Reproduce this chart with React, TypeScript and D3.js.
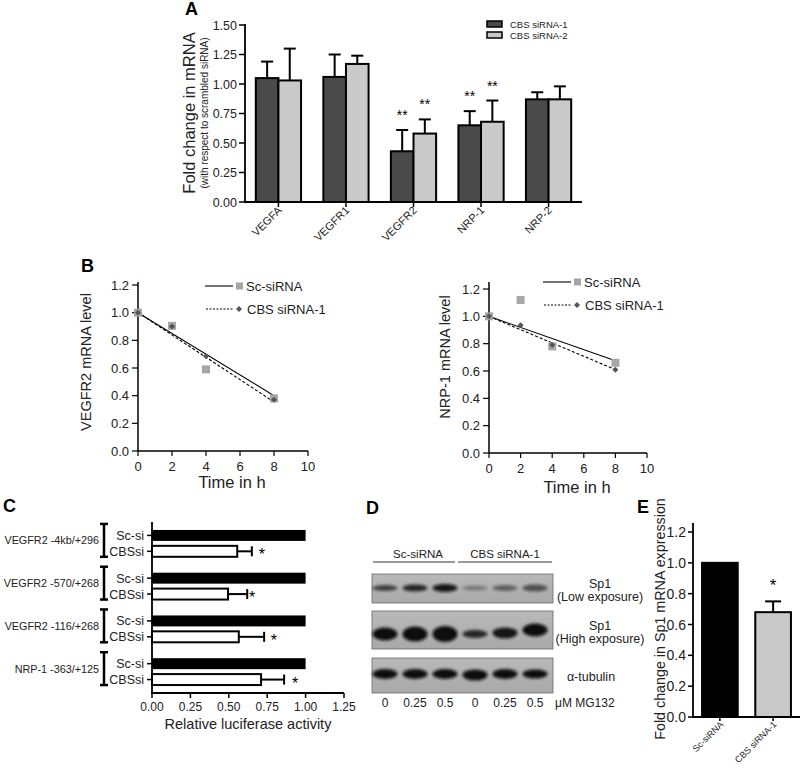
import React from "react";
import * as d3 from "d3";

const FONT = "Liberation Sans, Arial, Helvetica, sans-serif";

// Panel A
const aGenes = ["VEGFA", "VEGFR1", "VEGFR2", "NRP-1", "NRP-2"];
const aSeries = ["CBS siRNA-1", "CBS siRNA-2"];
const aSi1 = [1.05, 1.06, 0.43, 0.65, 0.87];
const aSi1Err = [0.14, 0.19, 0.18, 0.12, 0.06];
const aSi2 = [1.03, 1.17, 0.58, 0.68, 0.87];
const aSi2Err = [0.27, 0.07, 0.12, 0.18, 0.11];
const aStars1 = ["", "", "**", "**", ""];
const aStars2 = ["", "", "**", "**", ""];
const aTicks = [0, 0.25, 0.5, 0.75, 1.0, 1.25, 1.5];

// Panel B
const bTimes = [0, 2, 4, 8];
const bLeftSc = [1.0, 0.905, 0.59, 0.38];
const bLeftCbs = [1.0, 0.9, 0.685, 0.37];
const bLeftFitSc = [1.0, 0.4];
const bLeftFitCbs = [1.0, 0.355];
const bRightSc = [1.0, 1.12, 0.78, 0.66];
const bRightCbs = [1.0, 0.935, 0.79, 0.61];
const bRightFitSc = [1.0, 0.675];
const bRightFitCbs = [1.0, 0.61];
const bFitX = [0, 8];
const bXTicks = [0, 2, 4, 6, 8, 10];
const bYTicks = [0, 0.2, 0.4, 0.6, 0.8, 1.0, 1.2];

// Panel C
const cConstructs = ["VEGFR2 -4kb/+296", "VEGFR2 -570/+268", "VEGFR2 -116/+268", "NRP-1 -363/+125"];
const cRows = ["Sc-si", "CBSsi"];
const cSc = [1.0, 1.0, 1.0, 1.0];
const cCbs = [0.555, 0.495, 0.565, 0.71];
const cCbsErr = [0.095, 0.125, 0.165, 0.15];
const cStarPos = [0.716, 0.651, 0.794, 0.931];
const cXTicks = [0, 0.25, 0.5, 0.75, 1.0, 1.25];

// Panel D (blot band intensities)
const dLanes = ["0", "0.25", "0.5", "0", "0.25", "0.5"];
const dLowOpacity = [0.7, 0.85, 0.95, 0.35, 0.5, 0.6];
const dLowHeight = [6, 7, 8, 5, 6, 7];
const dHighOpacity = [1, 1, 1, 0.85, 0.95, 1];
const dHighHeight = [13, 15, 16, 8, 11, 13];
const dHighShift = [0, 0, 0, 0, -1, -4];
const dTubOpacity = [1, 1, 1, 1, 1, 1];
const dTubHeight = [10, 10, 10, 11, 10, 9];

// Panel E
const eGroups = ["Sc-siRNA", "CBS siRNA-1"];
const eValues = [1.0, 0.68];
const eErr = [0, 0.07];
const eStars = ["", "*"];
const eTicks = [0, 0.2, 0.4, 0.6, 0.8, 1.0, 1.2];

const DARK = "#4a4a4a";
const LIGHT = "#c9c9c9";

function PanelA() {
  const y = d3.scaleLinear().domain([0, 1.5]).range([202, 25]);
  const x = d3.scaleBand().domain(aGenes).range([245, 582]).paddingInner(0.33).paddingOuter(0.16);
  const bw = x.bandwidth() / 2;
  const series = [
    { v: aSi1, e: aSi1Err, s: aStars1, fill: DARK, off: 0 },
    { v: aSi2, e: aSi2Err, s: aStars2, fill: LIGHT, off: bw },
  ];
  return (
    <g fontFamily={FONT}>
      <text x={185} y={15} fontSize={18} fontWeight="bold">A</text>
      {series.map((s, si) =>
        aGenes.map((g, i) => {
          const x0 = (x(g) as number) + s.off;
          const cx = x0 + bw / 2;
          const top = y(s.v[i]);
          const et = y(s.v[i] + s.e[i]);
          return (
            <g key={`${si}-${g}`}>
              <line x1={cx} x2={cx} y1={top} y2={et} stroke="#000" strokeWidth={2} />
              <line x1={cx - 6} x2={cx + 6} y1={et} y2={et} stroke="#000" strokeWidth={2} />
              <rect x={x0} y={top} width={bw} height={y(0) - top} fill={s.fill} stroke="#000" strokeWidth={2} />
              {s.s[i] && (
                <text x={cx} y={et - 10} fontSize={14} textAnchor="middle">{s.s[i]}</text>
              )}
            </g>
          );
        })
      )}
      <line x1={245} x2={245} y1={24} y2={203} stroke="#000" strokeWidth={1.8} />
      <line x1={244} x2={582} y1={202} y2={202} stroke="#000" strokeWidth={1.8} />
      {aTicks.map((t) => (
        <g key={t}>
          <line x1={239} x2={245} y1={y(t)} y2={y(t)} stroke="#000" strokeWidth={1.5} />
          <text x={237} y={y(t)} dy="0.36em" fontSize={12.5} textAnchor="end" fill="#222">{t.toFixed(2)}</text>
        </g>
      ))}
      {aGenes.map((g) => {
        const cx = (x(g) as number) + x.bandwidth() / 2;
        return (
          <g key={g}>
            <line x1={cx} x2={cx} y1={202} y2={207} stroke="#000" strokeWidth={1.5} />
            <text transform={`translate(${cx + 4},${211}) rotate(-45)`} fontSize={11} textAnchor="end" fill="#222">{g}</text>
          </g>
        );
      })}
      <text transform="translate(195,113) rotate(-90)" fontSize={16.5} textAnchor="middle" fill="#222">Fold change in mRNA</text>
      <text transform="translate(208,113) rotate(-90)" fontSize={10} textAnchor="middle" fill="#222">(with respect to scrambled siRNA)</text>
      {aSeries.map((s, i) => (
        <g key={s}>
          <rect x={487} y={21 + i * 11} width={15} height={6} fill={i === 0 ? DARK : LIGHT} stroke="#000" strokeWidth={1.5} />
          <text x={510} y={27.5 + i * 11} fontSize={9.5} fill="#222">{s}</text>
        </g>
      ))}
    </g>
  );
}

function diamond(cx: number, cy: number, r: number) {
  return `M${cx},${cy - r}L${cx + r},${cy}L${cx},${cy + r}L${cx - r},${cy}Z`;
}

type BProps = {
  x0: number; x1: number; y0: number; y1: number; top: number;
  sc: number[]; cbs: number[]; fitSc: number[]; fitCbs: number[];
  ylabel: string; ylx: number; yly: number; txc: number; tyb: number;
  lgx: number; lgy: number;
};

function PanelB(p: BProps) {
  const x = d3.scaleLinear().domain([0, 10]).range([p.x0, p.x1]);
  const y = d3.scaleLinear().domain([0, 1.2]).range([p.y0, p.y1]);
  const line = d3.line<number>().x((_, i) => x(bFitX[i])).y((d) => y(d));
  return (
    <g fontFamily={FONT} fill="#222">
      <line x1={p.x0} x2={p.x0} y1={p.top} y2={p.y0} stroke="#000" strokeWidth={1.5} />
      <line x1={p.x0} x2={p.x1} y1={p.y0} y2={p.y0} stroke="#000" strokeWidth={1.5} />
      {bYTicks.map((t) => (
        <g key={t}>
          <line x1={p.x0 - 6} x2={p.x0} y1={y(t)} y2={y(t)} stroke="#000" strokeWidth={1.2} />
          <text x={p.x0 - 9} y={y(t)} dy="0.36em" fontSize={13} textAnchor="end">{t.toFixed(1)}</text>
        </g>
      ))}
      {bXTicks.map((t) => (
        <g key={t}>
          <line x1={x(t)} x2={x(t)} y1={p.y0} y2={p.y0 + 5} stroke="#000" strokeWidth={1.2} />
          <text x={x(t)} y={p.y0 + 20} fontSize={13} textAnchor="middle">{t}</text>
        </g>
      ))}
      <path d={line(p.fitSc) || ""} fill="none" stroke="#000" strokeWidth={1.1} />
      <path d={line(p.fitCbs) || ""} fill="none" stroke="#000" strokeWidth={1.1} strokeDasharray="3,2" />
      {bTimes.map((t, i) => (
        <rect key={`s${t}`} x={x(t) - 4} y={y(p.sc[i]) - 4} width={8} height={8} fill="#a6a6a6" />
      ))}
      {bTimes.map((t, i) => (
        <path key={`d${t}`} d={diamond(x(t), y(p.cbs[i]), 3)} fill="#555" />
      ))}
      <text x={p.txc} y={p.tyb} fontSize={16.5} textAnchor="middle">Time in h</text>
      <text transform={`translate(${p.ylx},${p.yly}) rotate(-90)`} fontSize={14.5} textAnchor="middle" dominantBaseline="central">{p.ylabel}</text>
      <line x1={p.lgx} x2={p.lgx + 28} y1={p.lgy} y2={p.lgy} stroke="#000" strokeWidth={1.1} />
      <rect x={p.lgx + 31} y={p.lgy - 3.5} width={7} height={7} fill="#a6a6a6" />
      <text x={p.lgx + 41} y={p.lgy + 4.5} fontSize={13}>Sc-siRNA</text>
      <line x1={p.lgx + 1} x2={p.lgx + 28} y1={p.lgy + 23} y2={p.lgy + 23} stroke="#000" strokeWidth={1.1} strokeDasharray="2,1.5" />
      <path d={diamond(p.lgx + 34, p.lgy + 23, 3)} fill="#555" />
      <text x={p.lgx + 42} y={p.lgy + 27.5} fontSize={13}>CBS siRNA-1</text>
    </g>
  );
}

function PanelC() {
  const x = d3.scaleLinear().domain([0, 1.25]).range([152, 344]);
  const g = d3.scaleBand().domain(cConstructs).range([522, 693]);
  const r = d3.scaleBand().domain(cRows).range([0, g.bandwidth()]).paddingInner(0.31).paddingOuter(0.5);
  const bh = r.bandwidth();
  return (
    <g fontFamily={FONT} fill="#222">
      <text x={3} y={512} fontSize={18} fontWeight="bold" fill="#000">C</text>
      {cConstructs.map((c, i) => {
        const g0 = g(c) as number;
        const ySc = g0 + (r("Sc-si") as number);
        const yCb = g0 + (r("CBSsi") as number);
        const et = x(cCbs[i] + cCbsErr[i]);
        return (
          <g key={c}>
            <rect x={x(0)} y={ySc} width={x(cSc[i]) - x(0)} height={bh} fill="#000" />
            <line x1={x(cCbs[i])} x2={et} y1={yCb + bh / 2} y2={yCb + bh / 2} stroke="#000" strokeWidth={2} />
            <line x1={et} x2={et} y1={yCb + bh / 2 - 5} y2={yCb + bh / 2 + 5} stroke="#000" strokeWidth={2} />
            <rect x={x(0)} y={yCb} width={x(cCbs[i]) - x(0)} height={bh} fill="#fff" stroke="#000" strokeWidth={2} />
            <text x={x(cStarPos[i])} y={yCb + bh / 2 + 9} fontSize={16} textAnchor="middle" fill="#000">*</text>
            {cRows.map((rw) => {
              const cy = g0 + (r(rw) as number) + bh / 2;
              return (
                <g key={rw}>
                  <line x1={147} x2={152} y1={cy} y2={cy} stroke="#000" strokeWidth={1.5} />
                  <text x={144} y={cy} dy="0.36em" fontSize={12.5} textAnchor="end">{rw}</text>
                </g>
              );
            })}
            <line x1={104} x2={104} y1={ySc - 6} y2={yCb + bh} stroke="#000" strokeWidth={2.5} />
            <line x1={100} x2={108} y1={ySc - 6} y2={ySc - 6} stroke="#000" strokeWidth={2.5} />
            <line x1={100} x2={108} y1={yCb + bh} y2={yCb + bh} stroke="#000" strokeWidth={2.5} />
            <text x={99} y={(ySc + yCb + bh) / 2 - 3} dy="0.36em" fontSize={10.8} textAnchor="end">{c}</text>
          </g>
        );
      })}
      <line x1={152} x2={152} y1={522} y2={694} stroke="#000" strokeWidth={1.8} />
      <line x1={151} x2={344} y1={693} y2={693} stroke="#000" strokeWidth={1.8} />
      {cXTicks.map((t) => (
        <g key={t}>
          <line x1={x(t)} x2={x(t)} y1={693} y2={698} stroke="#000" strokeWidth={1.5} />
          <text x={x(t)} y={711} fontSize={12} textAnchor="middle">{t.toFixed(2)}</text>
        </g>
      ))}
      <text x={248} y={729} fontSize={14.5} textAnchor="middle">Relative luciferase activity</text>
    </g>
  );
}

function PanelD() {
  const lanes = d3.scaleBand().domain(dLanes.map((_, i) => String(i))).range([370, 550]);
  const lc = (i: number) => (lanes(String(i)) as number) + lanes.bandwidth() / 2;
  const blots = [
    { y: 574, h: 29, cy: 588, op: dLowOpacity, hh: dLowHeight, sh: [0, 0, 0, 0, 0, 0] },
    { y: 611, h: 38, cy: 634, op: dHighOpacity, hh: dHighHeight, sh: dHighShift },
    { y: 658, h: 35, cy: 674, op: dTubOpacity, hh: dTubHeight, sh: [0, 0, 0, 1, 0, 0] },
  ];
  return (
    <g fontFamily={FONT} fill="#222">
      <defs>
        <filter id="blur" x="-30%" y="-80%" width="160%" height="260%">
          <feGaussianBlur stdDeviation="1.6" />
        </filter>
        <linearGradient id="blotbg" x1="0" x2="0" y1="0" y2="1">
          <stop offset="0" stopColor="#b9b9b9" />
          <stop offset="1" stopColor="#a9a9a9" />
        </linearGradient>
      </defs>
      <text x={366} y={514} fontSize={18} fontWeight="bold" fill="#000">D</text>
      <text x={418} y={558} fontSize={11.5} textAnchor="middle">Sc-siRNA</text>
      <line x1={373} x2={455} y1={562} y2={562} stroke="#333" strokeWidth={1} />
      <text x={505} y={558} fontSize={11.5} textAnchor="middle">CBS siRNA-1</text>
      <line x1={458} x2={552} y1={562} y2={562} stroke="#333" strokeWidth={1} />
      {blots.map((b, bi) => (
        <g key={bi}>
          <rect x={372} y={b.y} width={181} height={b.h} fill="url(#blotbg)" stroke="#6a6a6a" strokeWidth={0.8} />
          {dLanes.map((_, i) => (
            <ellipse key={i} cx={lc(i)} cy={b.cy + b.sh[i]} rx={12.5} ry={b.hh[i] / 2} fill="#111" opacity={b.op[i]} filter="url(#blur)" />
          ))}
        </g>
      ))}
      <text x={600} y={588} fontSize={12.5} textAnchor="middle">Sp1</text>
      <text x={600} y={601} fontSize={12.5} textAnchor="middle">(Low exposure)</text>
      <text x={600} y={630} fontSize={12.5} textAnchor="middle">Sp1</text>
      <text x={600} y={643} fontSize={12.5} textAnchor="middle">(High exposure)</text>
      <text x={591} y={681} fontSize={12.5} textAnchor="middle">α-tubulin</text>
      {dLanes.map((l, i) => (
        <text key={i} x={lc(i)} y={707} fontSize={12} textAnchor="middle">{l}</text>
      ))}
      <text x={555} y={707} fontSize={12}>μM  MG132</text>
    </g>
  );
}

function PanelE() {
  const y = d3.scaleLinear().domain([0, 1.2]).range([717, 532]);
  const x = d3.scaleBand().domain(eGroups).range([693, 800]).paddingInner(0.33).paddingOuter(0.17);
  const fills = ["#000", LIGHT];
  return (
    <g fontFamily={FONT} fill="#222">
      <text x={637} y={513} fontSize={18} fontWeight="bold" fill="#000">E</text>
      {eGroups.map((gName, i) => {
        const x0 = x(gName) as number;
        const cx = x0 + x.bandwidth() / 2;
        const top = y(eValues[i]);
        const et = y(eValues[i] + eErr[i]);
        return (
          <g key={gName}>
            {eErr[i] > 0 && (
              <>
                <line x1={cx} x2={cx} y1={top} y2={et} stroke="#000" strokeWidth={2} />
                <line x1={cx - 8} x2={cx + 8} y1={et} y2={et} stroke="#000" strokeWidth={2} />
              </>
            )}
            <rect x={x0} y={top} width={x.bandwidth()} height={y(0) - top} fill={fills[i]} stroke="#000" strokeWidth={2} />
            {eStars[i] && (
              <text x={cx} y={et - 10} fontSize={17} textAnchor="middle" fill="#000">{eStars[i]}</text>
            )}
            <line x1={cx} x2={cx} y1={717} y2={721} stroke="#000" strokeWidth={1.5} />
            <text transform={`translate(${cx + 4},${725}) rotate(-45)`} fontSize={9} textAnchor="end">{gName}</text>
          </g>
        );
      })}
      <line x1={693} x2={693} y1={523} y2={718} stroke="#000" strokeWidth={1.8} />
      <line x1={692} x2={800} y1={717} y2={717} stroke="#000" strokeWidth={1.8} />
      {eTicks.map((t) => (
        <g key={t}>
          <line x1={688} x2={693} y1={y(t)} y2={y(t)} stroke="#000" strokeWidth={1.5} />
          <text x={686} y={y(t)} dy="0.36em" fontSize={14} textAnchor="end">{t.toFixed(1)}</text>
        </g>
      ))}
      <text transform="translate(660,619) rotate(-90)" fontSize={14.3} textAnchor="middle" dominantBaseline="central">Fold change in Sp1 mRNA expression</text>
    </g>
  );
}

export default function App() {
  return (
    <svg width={800} height={770} style={{ position: "absolute", left: 0, top: 0, background: "#fff" }}>
      <rect width={800} height={770} fill="#fff" />
      <PanelA />
      <text x={81} y={272} fontSize={18} fontWeight="bold" fontFamily={FONT}>B</text>
      <PanelB x0={138} x1={308} y0={451} y1={285} top={282} sc={bLeftSc} cbs={bLeftCbs}
        fitSc={bLeftFitSc} fitCbs={bLeftFitCbs} ylabel="VEGFR2 mRNA level" ylx={86} yly={362}
        txc={232} tyb={488} lgx={205} lgy={286} />
      <PanelB x0={489} x1={647} y0={453} y1={289} top={282} sc={bRightSc} cbs={bRightCbs}
        fitSc={bRightFitSc} fitCbs={bRightFitCbs} ylabel="NRP-1 mRNA level" ylx={445} yly={357}
        txc={577} tyb={493} lgx={543} lgy={282} />
      <PanelC />
      <PanelD />
      <PanelE />
    </svg>
  );
}
